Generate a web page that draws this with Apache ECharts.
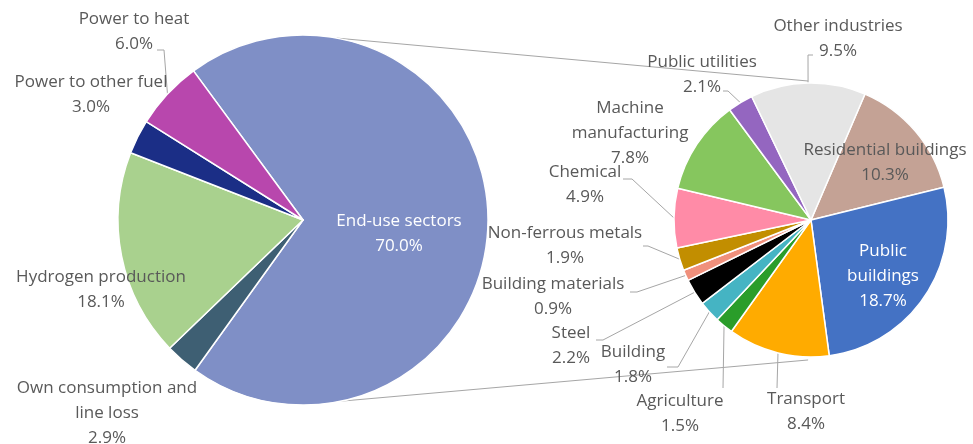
<!DOCTYPE html>
<html><head><meta charset="utf-8">
<script src="https://cdn.jsdelivr.net/npm/echarts@6/dist/echarts.min.js"></script>
<style>html,body{margin:0;padding:0;background:#fff}#c{width:973px;height:444px}</style>
</head><body><div id="c"></div>
<script>
// ---- data ----
const mainCategories = ['End-use sectors', 'Own consumption and line loss', 'Hydrogen production', 'Power to other fuel', 'Power to heat'];
const mainValues = [70.0, 2.9, 18.1, 3.0, 6.0];
const endUseCategories = ['Residential buildings', 'Public buildings', 'Transport', 'Agriculture', 'Building', 'Steel', 'Building materials', 'Non-ferrous metals', 'Chemical', 'Machine manufacturing', 'Public utilities', 'Other industries'];
const endUseValues = [10.3, 18.7, 8.4, 1.5, 1.8, 2.2, 0.9, 1.9, 4.9, 7.8, 2.1, 9.5];

// ---- styles / layout ----
const mainColors = ['#7f8fc6', '#3e5f73', '#a9d18e', '#1b2e86', '#b847ad'];
const endColors = ['#c4a295', '#4472c4', '#ffab00', '#2a9d2a', '#45b4c3', '#000000', '#f0907c', '#c28e00', '#ff8ba7', '#86c65e', '#9466c0', '#e5e5e5'];
const wrap = { 'Own consumption and line loss': 'Own consumption and\nline loss', 'Machine manufacturing': 'Machine\nmanufacturing', 'Public buildings': 'Public\nbuildings' };
const L = { cx: 303, cy: 220, r: 185, start: 126.3 };
const R = { cx: 811, cy: 220, r: 137, start: 66.8 };
const mainLabelPos = [[399, 234], [107, 413], [101, 290], [91, 95], [134, 32]];
const mainInside = [true, false, false, false, false];
const mainLabelColor = ['#ffffff', '#595959', '#595959', '#595959', '#595959'];
// label-side leader points (null = no leader line)
const mainLeaderEnds = [null, null, null, null, [[164, 50], [157, 50]]];
const endLabelPos = [[885, 163], [883, 276], [806, 412], [680, 414], [633, 365], [571, 346], [553, 297], [565, 246], [585, 185], [630, 133], [702, 75], [838, 39]];
const endInside = [true, true, false, false, false, false, false, false, false, false, false, false];
const endLabelColor = ['#595959', '#ffffff', '#595959', '#595959', '#595959', '#595959', '#595959', '#595959', '#595959', '#595959', '#595959', '#595959'];
const endLeaderEnds = [null, null, [[777, 388]], [[723, 388]], [[678, 367], [667, 367]], [[603, 340], [596, 340]], [[637, 292], [630, 292]], [[648, 246], [643, 246]], [[632, 179], [623, 179]], null, [[728, 91], [723, 91]], [[808, 55], [813, 55]]];
const FONT = 'Open Sans';
const TEXT = '#595959';
const LINE = '#a6a6a6';

function midEdge(c, vals, i) {
  const tot = vals.reduce((a, b) => a + b, 0);
  let cum = 0;
  for (let k = 0; k < i; k++) cum += vals[k];
  const ang = (c.start - (cum + vals[i] / 2) / tot * 360) * Math.PI / 180;
  return [c.cx + c.r * Math.cos(ang), c.cy - c.r * Math.sin(ang)];
}
function buildData(cats, vals, colors, inside, leaders, lblColor) {
  return cats.map((n, i) => ({
    name: n, value: vals[i],
    itemStyle: { color: colors[i] },
    label: { position: inside[i] ? 'inside' : 'outside', color: lblColor[i] },
    labelLine: { show: !!leaders[i], smooth: false, lineStyle: { color: LINE, width: 1 } }
  }));
}
const fmt = p => (wrap[p.name] || p.name) + '\n' + p.value.toFixed(1) + '%';
function layoutFrom(c, vals, pos, leaders) {
  return p => {
    const i = p.dataIndex;
    const o = { x: pos[i][0], y: pos[i][1], align: 'center', verticalAlign: 'middle', hideOverlap: false };
    if (leaders[i]) o.labelLinePoints = [midEdge(c, vals, i)].concat(leaders[i]);
    return o;
  };
}
function pt(c, ang, rr) {
  const a = ang * Math.PI / 180;
  return [c.cx + rr * Math.cos(a), c.cy - rr * Math.sin(a)];
}
const t1 = pt(L, 79.5, L.r), t2 = pt(R, 91.2, R.r + 2);
const b1 = pt(L, -78.5, L.r), b2 = pt(R, -91.2, R.r + 3);

const labelBase = { fontFamily: FONT, fontSize: 17, lineHeight: 25, formatter: fmt, color: TEXT };
const chart = echarts.init(document.getElementById('c'), null, { renderer: 'canvas' });
chart.setOption({
  animation: false,
  backgroundColor: '#ffffff',
  graphic: [
    { type: 'line', z: -1, shape: { x1: t1[0], y1: t1[1], x2: t2[0], y2: t2[1] }, style: { stroke: LINE, lineWidth: 1 } },
    { type: 'line', z: -1, shape: { x1: b1[0], y1: b1[1], x2: b2[0], y2: b2[1] }, style: { stroke: LINE, lineWidth: 1 } }
  ],
  series: [
    {
      type: 'pie', center: [L.cx, L.cy], radius: [0, L.r], startAngle: L.start, clockwise: true,
      avoidLabelOverlap: false, itemStyle: { borderColor: '#ffffff', borderWidth: 1.5 },
      label: labelBase, labelLine: { show: false, smooth: false }, emphasis: { disabled: true },
      labelLayout: layoutFrom(L, mainValues, mainLabelPos, mainLeaderEnds),
      data: buildData(mainCategories, mainValues, mainColors, mainInside, mainLeaderEnds, mainLabelColor)
    },
    {
      type: 'pie', center: [R.cx, R.cy], radius: [0, R.r], startAngle: R.start, clockwise: true,
      avoidLabelOverlap: false, itemStyle: { borderColor: '#ffffff', borderWidth: 1.5 },
      label: labelBase, labelLine: { show: false, smooth: false }, emphasis: { disabled: true },
      labelLayout: layoutFrom(R, endUseValues, endLabelPos, endLeaderEnds),
      data: buildData(endUseCategories, endUseValues, endColors, endInside, endLeaderEnds, endLabelColor)
    }
  ]
});
</script></body></html>
